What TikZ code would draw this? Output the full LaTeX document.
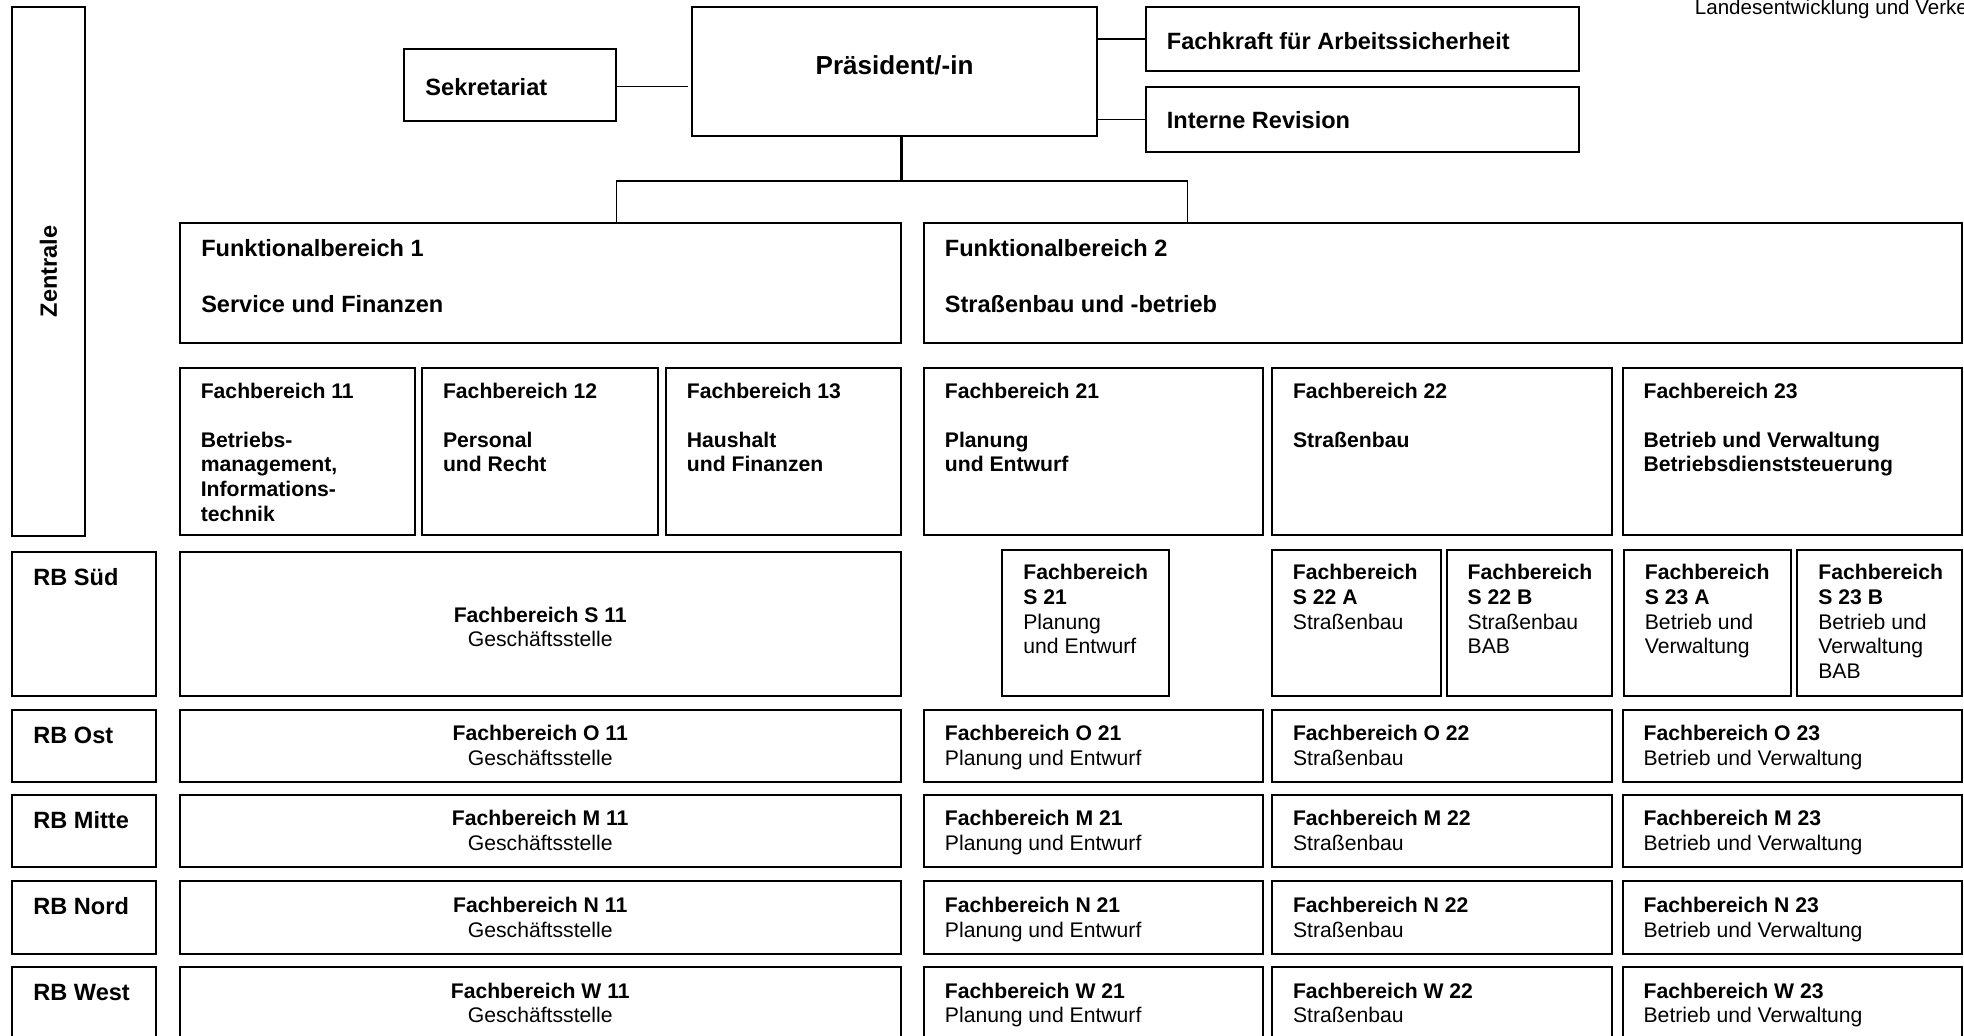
\documentclass[tikz,border=0pt]{standalone}
\usepackage{fontspec}
\setmainfont{Liberation Sans}
\newcommand\fsml{\fontsize{16.9pt}{19.7pt}\selectfont}
\newcommand\fhdr{\fontsize{16.4pt}{19.7pt}\selectfont}
\newcommand\fmed{\fontsize{18.8pt}{21.6pt}\selectfont}
\newcommand\flrg{\fontsize{20.8pt}{24pt}\selectfont}
\newcommand\firstrule{\rule{0pt}{1em}}
\tikzset{
  box/.style={draw, line width=1.6pt, inner sep=0pt, outer sep=0pt, anchor=north west, rectangle},
  conn/.style={line width=1.1pt},
  mainconn/.style={line width=2.4pt},
  tl/.style={inner sep=0pt, anchor=north west, align=left, font=\fsml},
  tc/.style={inner sep=0pt, anchor=north, align=center, font=\fsml},
  one/.style={inner sep=0pt, anchor=base west},
}
\newcommand\bx[5]{\node[box, minimum width={#4-(#2)}, minimum height={#5-(#3)}] (#1) at (#2,#3) {};}
\newcommand\rrow[3]{%
  \bx{rb#1}{9.5}{#2}{124.7}{#2+58}
  \bx{c1#1}{143.6}{#2}{719}{#2+58}
  \bx{c2#1}{737.7}{#2}{1008.5}{#2+58}
  \bx{c3#1}{1015.6}{#2}{1286.7}{#2+58}
  \bx{c4#1}{1295.5}{#2}{1566}{#2+58}
  \node[one, font=\fmed\bfseries] (rbl#1) at (26.5,#2+26.9) {RB #3};
  \node[tc] (ta#1) at (431.3,#2+7.8) {\firstrule\textbf{Fachbereich #1 11}\\Geschäftsstelle};
  \node[tl] (tb#1) at (754.2,#2+7.8) {\firstrule\textbf{Fachbereich #1 21}\\Planung und Entwurf};
  \node[tl] (tc#1) at (1032.1,#2+7.8) {\firstrule\textbf{Fachbereich #1 22}\\Straßenbau};
  \node[tl] (td#1) at (1312,#2+7.8) {\firstrule\textbf{Fachbereich #1 23}\\Betrieb und Verwaltung};
}
\begin{document}
\begin{tikzpicture}[x=1pt,y=-1pt]
\useasboundingbox (0,0) rectangle (1568,827);
\clip (0,0) rectangle (1568,827);

% header text (cut at the page edge, as in the reference)
\node[one, font=\fhdr] (ministry) at (1353,11.2) {Landesentwicklung und Verkehr};

% Zentrale
\bx{zen}{9.6}{5.7}{67.9}{427.7}
\node[rotate=90, inner sep=0pt, font=\fmed\bfseries] (zentxt) at (38.7,216.7) {Zentrale};

% top level
\bx{sek}{322.5}{39.1}{492}{96.9}
\node[one, font=\fmed\bfseries] (sektxt) at (339.5,76.4) {Sekretariat};
\bx{pres}{552.5}{5.6}{876}{108.6}
\node[inner sep=0pt, anchor=base, font=\flrg\bfseries] (prestxt) at (714.2,59.1) {Präsident/-in};
\bx{fk}{914.9}{5.6}{1260.6}{56.7}
\node[one, font=\fmed\bfseries] (fktxt) at (931.4,39.7) {Fachkraft für Arbeitssicherheit};
\bx{ir}{914.9}{69.5}{1260.6}{121.3}
\node[one, font=\fmed\bfseries] (irtxt) at (931.4,102.4) {Interne Revision};

% connectors
\draw[conn, shorten >=3pt] ([yshift=-1.2pt]sek.east) -- ([yshift=-1.2pt]sek.east -| pres.west);
\draw[conn] (pres.east |- fk.west) -- (fk.west);
\draw[conn] (pres.east |- ir.west) -- (ir.west);
\coordinate (jc) at (720,144.5);
\coordinate (jl) at (492,144.5);
\coordinate (jr) at (948,144.5);

% Funktionalbereiche
\bx{fb1}{143.6}{178}{719}{274}
\node[tl, font=\fmed\bfseries] (fb1txt) at (160.5,185.6) {\firstrule Funktionalbereich 1\\[23.4pt]Service und Finanzen};
\bx{fb2}{737.7}{178}{1566}{274}
\node[tl, font=\fmed\bfseries] (fb2txt) at (754.2,185.6) {\firstrule Funktionalbereich 2\\[23.4pt]Straßenbau und -betrieb};

\draw[mainconn] (pres.south -| jc) -- (jc);
\draw[conn] (jl |- fb1.north) -- (jl) -- (jr) -- (jr |- fb2.north);

% Fachbereiche Zentrale
\bx{f11}{143.6}{293.5}{331}{427.5}
\bx{f12}{337}{293.5}{525}{427.5}
\bx{f13}{531.7}{293.5}{719}{427.5}
\bx{f21}{737.7}{293.5}{1008.5}{427.5}
\bx{f22}{1015.6}{293.5}{1286.7}{427.5}
\bx{f23}{1295.5}{293.5}{1566}{427.5}
\node[tl, font=\fsml\bfseries] (f11t) at (160.1,300.8) {\firstrule Fachbereich 11\\[19.3pt]Betriebs-\\management,\\Informations-\\technik};
\node[tl, font=\fsml\bfseries] (f12t) at (353.5,300.8) {\firstrule Fachbereich 12\\[19.3pt]Personal\\und Recht};
\node[tl, font=\fsml\bfseries] (f13t) at (548.2,300.8) {\firstrule Fachbereich 13\\[19.3pt]Haushalt\\und Finanzen};
\node[tl, font=\fsml\bfseries] (f21t) at (754.2,300.8) {\firstrule Fachbereich 21\\[19.3pt]Planung\\und Entwurf};
\node[tl, font=\fsml\bfseries] (f22t) at (1032.1,300.8) {\firstrule Fachbereich 22\\[19.3pt]Straßenbau};
\node[tl, font=\fsml\bfseries] (f23t) at (1312,300.8) {\firstrule Fachbereich 23\\[19.3pt]Betrieb und Verwaltung\\Betriebsdienststeuerung};

% RB Sued
\bx{rbS}{9.5}{440.5}{124.7}{556}
\node[one, font=\fmed\bfseries] (rblS) at (26.5,467.4) {RB Süd};
\bx{s11}{143.6}{440.5}{719}{556}
\node[tc] (s11t) at (431.3,479.6) {\firstrule\textbf{Fachbereich S 11}\\Geschäftsstelle};
\bx{s21}{800}{439}{933}{555.7}
\bx{s22a}{1015.4}{439}{1150.2}{555.7}
\bx{s22b}{1155.2}{439}{1287.3}{555.7}
\bx{s23a}{1296.5}{439}{1430}{555.7}
\bx{s23b}{1435}{439}{1566}{555.7}
\node[tl] (s21t) at (816.8,445.8) {\firstrule\textbf{Fachbereich}\\\textbf{S 21}\\Planung\\und Entwurf};
\node[tl] (s22at) at (1032,445.8) {\firstrule\textbf{Fachbereich}\\\textbf{S 22 A}\\Straßenbau};
\node[tl] (s22bt) at (1171.5,445.8) {\firstrule\textbf{Fachbereich}\\\textbf{S 22 B}\\Straßenbau\\BAB};
\node[tl] (s23at) at (1313,445.8) {\firstrule\textbf{Fachbereich}\\\textbf{S 23 A}\\Betrieb und\\Verwaltung};
\node[tl] (s23bt) at (1451.5,445.8) {\firstrule\textbf{Fachbereich}\\\textbf{S 23 B}\\Betrieb und\\Verwaltung\\BAB};

% other regions
\rrow{O}{566.5}{Ost}
\rrow{M}{634.5}{Mitte}
\rrow{N}{703.5}{Nord}
\rrow{W}{772}{West}
\end{tikzpicture}
\end{document}
